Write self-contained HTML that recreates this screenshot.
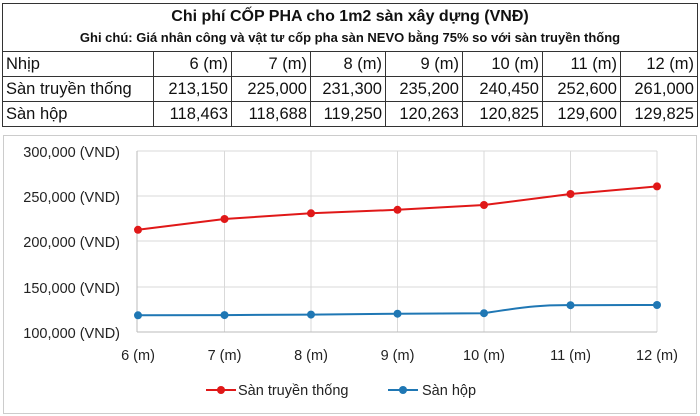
<!DOCTYPE html>
<html><head><meta charset="utf-8"><style>
body{margin:0;width:700px;height:416px;background:#fff;font-family:"Liberation Sans",sans-serif;overflow:hidden;position:relative}
table{position:absolute;left:2px;top:3px;width:696px;border-collapse:collapse;font-size:16.5px;color:#111;table-layout:fixed}
td{border:1px solid #333;height:24px;padding:0 3px;text-align:right;white-space:nowrap;overflow:hidden}
td:first-child{text-align:left}
.t{text-align:center!important;font-weight:bold;font-size:16px;height:26px;border-bottom:none}
.s{text-align:center!important;font-weight:bold;font-size:13px;height:21px;border-top:none;vertical-align:top}
</style></head><body>
<table>
<colgroup><col style="width:151px"><col style="width:78px"><col style="width:79px"><col style="width:75px"><col style="width:77px"><col style="width:80px"><col style="width:78px"><col></colgroup>
<tr><td class="t" colspan="8">Chi phí CỐP PHA cho 1m2 sàn xây dựng (VNĐ)</td></tr>
<tr><td class="s" colspan="8">Ghi chú: Giá nhân công và vật tư cốp pha sàn NEVO bằng 75% so với sàn truyền thống</td></tr>
<tr><td>Nhịp</td><td>6 (m)</td><td>7 (m)</td><td>8 (m)</td><td>9 (m)</td><td>10 (m)</td><td>11 (m)</td><td>12 (m)</td></tr>
<tr><td>Sàn truyền thống</td><td>213,150</td><td>225,000</td><td>231,300</td><td>235,200</td><td>240,450</td><td>252,600</td><td>261,000</td></tr>
<tr><td>Sàn hộp</td><td>118,463</td><td>118,688</td><td>119,250</td><td>120,263</td><td>120,825</td><td>129,600</td><td>129,825</td></tr>
</table>
<svg width="700" height="416" style="position:absolute;left:0;top:0" font-family="Liberation Sans, sans-serif" font-size="14.5" fill="#222">
<rect x="3.5" y="135.5" width="693" height="278" fill="none" stroke="#ccc"/>
<g stroke="#d9d9d9">
<line x1="137" y1="151" x2="657" y2="151"/><line x1="137" y1="196" x2="657" y2="196"/><line x1="137" y1="241" x2="657" y2="241"/><line x1="137" y1="287" x2="657" y2="287"/>
<line x1="224.5" y1="151" x2="224.5" y2="332"/><line x1="311" y1="151" x2="311" y2="332"/><line x1="397.5" y1="151" x2="397.5" y2="332"/><line x1="484" y1="151" x2="484" y2="332"/><line x1="570.5" y1="151" x2="570.5" y2="332"/><line x1="657" y1="151" x2="657" y2="332"/>
</g>
<line x1="137" y1="332" x2="657" y2="332" stroke="#bbb"/><line x1="137" y1="151" x2="137" y2="332" stroke="#bbb"/>
<g text-anchor="end"><text x="120" y="157">300,000 (VND)</text><text x="120" y="202">250,000 (VND)</text><text x="120" y="247">200,000 (VND)</text><text x="120" y="293">150,000 (VND)</text><text x="120" y="338">100,000 (VND)</text></g>
<g text-anchor="middle"><text x="138" y="360">6 (m)</text><text x="224.5" y="360">7 (m)</text><text x="311" y="360">8 (m)</text><text x="397.5" y="360">9 (m)</text><text x="484" y="360">10 (m)</text><text x="570.5" y="360">11 (m)</text><text x="657" y="360">12 (m)</text></g>
<polyline fill="none" stroke="#e01818" stroke-width="2" points="138,229.8 224.5,219 311,213.3 397.5,209.8 484,205 570.5,194 657,186.4"/>
<g fill="#e01818"><circle cx="138" cy="229.8" r="4"/><circle cx="224.5" cy="219" r="4"/><circle cx="311" cy="213.3" r="4"/><circle cx="397.5" cy="209.8" r="4"/><circle cx="484" cy="205" r="4"/><circle cx="570.5" cy="194" r="4"/><circle cx="657" cy="186.4" r="4"/></g>
<path fill="none" stroke="#1f77b4" stroke-width="2" d="M138,315.3 L224.5,315.1 L311,314.6 L397.5,313.7 L484,313.2 C530,306 545,305 570.5,305.2 L657,305"/>
<g fill="#1f77b4"><circle cx="138" cy="315.3" r="4"/><circle cx="224.5" cy="315.1" r="4"/><circle cx="311" cy="314.6" r="4"/><circle cx="397.5" cy="313.7" r="4"/><circle cx="484" cy="313.2" r="4"/><circle cx="570.5" cy="305.2" r="4"/><circle cx="657" cy="305" r="4"/></g>
<line x1="206" y1="390" x2="236" y2="390" stroke="#e01818" stroke-width="2"/><circle cx="221" cy="390" r="4" fill="#e01818"/>
<text x="238" y="395">Sàn truyền thống</text>
<line x1="388" y1="390" x2="418" y2="390" stroke="#1f77b4" stroke-width="2"/><circle cx="403" cy="390" r="4" fill="#1f77b4"/>
<text x="422" y="395">Sàn hộp</text>
</svg>
</body></html>
